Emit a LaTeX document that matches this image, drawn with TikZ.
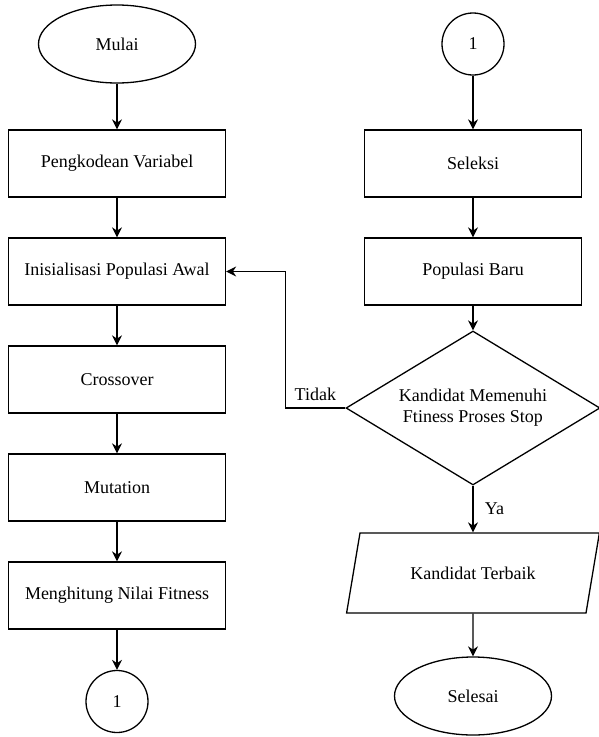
\documentclass[tikz,border=0pt]{standalone}
\usepackage{fontspec}
\setmainfont{Liberation Serif}
\usetikzlibrary{shapes,arrows.meta}
\tikzstyle{startstop} = [ellipse, minimum width=157pt, minimum height=78pt, text centered, draw=black]
\tikzstyle{connector} = [circle, minimum size=62pt, inner sep=0pt, text centered, draw=black]
\tikzstyle{process} = [rectangle, minimum width=217pt, minimum height=67pt, text centered, draw=black]
\tikzstyle{decision} = [diamond, aspect=1.65, minimum width=254pt, minimum height=154pt, inner sep=0pt, align=center, draw=black]
\tikzstyle{io} = [trapezium, trapezium left angle=68, trapezium right angle=112, minimum width=253pt, minimum height=80pt, text centered, draw=black, trapezium stretches=true]

\begin{document}
\begin{tikzpicture}[x=1pt, y=1pt, node distance=108pt, line width=1.3pt, >={Stealth[length=10pt,width=10pt]}, font=\fontsize{18}{21}\selectfont]
    \useasboundingbox (0,0) rectangle (599,-737);

    \node(start)[startstop] at (117,-44) {Mulai};
    \node(encode)[process, below of=start, yshift=-11.5pt]{Pengkodean Variabel};
    \node(init)[process, below of=encode]{Inisialisasi Populasi Awal};
    \node(cross)[process, below of=init]{Crossover};
    \node(mutate)[process, below of=cross]{Mutation};
    \node(fitness)[process, below of=mutate]{Menghitung Nilai Fitness};
    \node(con1)[connector, below of=fitness, yshift=2pt]{1};

    \node(con2)[connector] at (473,-44) {1};
    \node(select)[process, below of=con2, yshift=-11.5pt]{Seleksi};
    \node(newpop)[process, below of=select]{Populasi Baru};
    \node(check)[decision, below of=newpop, yshift=-28.5pt]{Kandidat Memenuhi\\Ftiness Proses Stop};
    \node(best)[io, below of=check, yshift=-57pt]{Kandidat Terbaik};
    \node(end)[startstop, below of=best, yshift=-15pt]{Selesai};

    \draw[->] (start) -- (encode);
    \draw[->] (encode) -- (init);
    \draw[->] (init) -- (cross);
    \draw[->] (cross) -- (mutate);
    \draw[->] (mutate) -- (fitness);
    \draw[->] (fitness) -- (con1);

    \draw[->] (con2) -- (select);
    \draw[->] (select) -- (newpop);
    \draw[->] (newpop) -- (check);
    \draw[->] (check) -- node[right=8pt]{Ya} (best);
    \draw[->] (best) -- (end);
    \draw[->] (check.west) -- node[above=3pt]{Tidak} ++(-60,0) |- (init.east);

\end{tikzpicture}
\end{document}
